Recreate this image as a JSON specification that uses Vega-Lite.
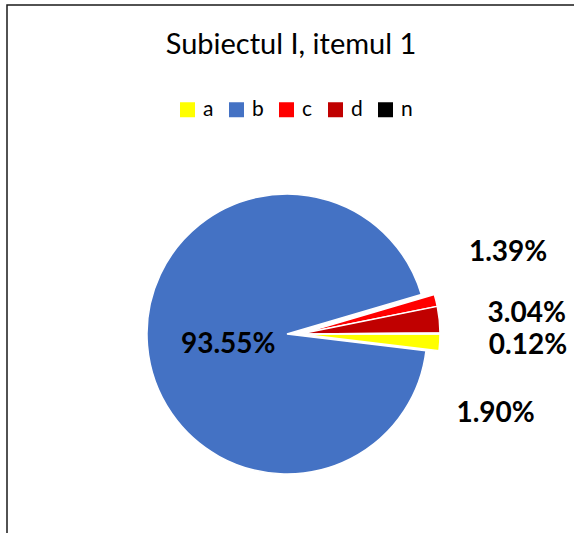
{
  "$schema": "https://vega.github.io/schema/vega-lite/v6.json",
  "width": 600,
  "height": 658,
  "autosize": {"type": "none"},
  "padding": {"left": 7, "top": 5, "right": -33, "bottom": -130},
  "background": "white",
  "title": {
    "text": "Subiectul I, itemul 1",
    "font": "Lato",
    "fontSize": 29,
    "fontWeight": "normal",
    "color": "#000000",
    "anchor": "middle",
    "frame": "group",
    "orient": "top",
    "baseline": "alphabetic",
    "offset": -79,
    "dx": -16
  },
  "data": {
    "values": [
      {"cat": "a", "pct": 1.90},
      {"cat": "b", "pct": 93.55},
      {"cat": "c", "pct": 1.39},
      {"cat": "d", "pct": 3.04},
      {"cat": "n", "pct": 0.12}
    ]
  },
  "transform": [
    {"stack": "pct", "groupby": [], "sort": [{"field": "cat", "order": "ascending"}], "as": ["t0", "t1"]},
    {"calculate": "(datum.t0 + datum.t1) / 2", "as": "mid"},
    {"calculate": "format(datum.pct, '.2f') + '%'", "as": "label"}
  ],
  "layer": [
    {
      "transform": [{"filter": "datum.cat === 'a'"}],
      "mark": {"type": "rect", "fill": null, "stroke": "#1a1a1a", "strokeWidth": 1.5, "strokeDash": [600, 1258, 658]},
      "encoding": {}
    },
    {
      "transform": [{"filter": "datum.cat === 'b'"}],
      "mark": {"type": "arc", "outerRadius": 140, "stroke": "white", "strokeWidth": 1.5, "xOffset": -20},
      "encoding": {
        "theta": {"field": "t0", "type": "quantitative", "stack": null, "scale": {"domain": [0, 100], "range": [1.5708, 7.8540]}},
        "theta2": {"field": "t1"},
        "color": {"field": "cat", "type": "nominal", "scale": {"domain": ["a", "b", "c", "d", "n"], "range": ["#FFFF00", "#4472C4", "#FF0000", "#C00000", "#000000"]}}
      }
    },
    {
      "transform": [{"filter": "datum.cat !== 'b'"}],
      "mark": {"type": "arc", "outerRadius": 140, "stroke": "white", "strokeWidth": 1.5, "xOffset": -7},
      "encoding": {
        "theta": {"field": "t0", "type": "quantitative", "stack": null},
        "theta2": {"field": "t1"},
        "color": {"field": "cat", "type": "nominal"}
      }
    },
    {
      "transform": [{"filter": "datum.cat === 'b'"}],
      "mark": {"type": "text", "font": "Lato", "fontWeight": "bold", "fontSize": 28, "color": "#000000", "align": "center", "baseline": "middle", "radius": 60, "dx": -19, "dy": 6},
      "encoding": {"theta": {"field": "mid", "type": "quantitative", "stack": null}, "text": {"field": "label"}}
    },
    {
      "transform": [{"filter": "datum.cat === 'c'"}],
      "mark": {"type": "text", "font": "Lato", "fontWeight": "bold", "fontSize": 28, "color": "#000000", "align": "center", "baseline": "middle", "radius": 235, "dx": -27, "dy": -25},
      "encoding": {"theta": {"field": "mid", "type": "quantitative", "stack": null}, "text": {"field": "label"}}
    },
    {
      "transform": [{"filter": "datum.cat === 'd'"}],
      "mark": {"type": "text", "font": "Lato", "fontWeight": "bold", "fontSize": 28, "color": "#000000", "align": "center", "baseline": "middle", "radius": 240, "dx": -19, "dy": 5},
      "encoding": {"theta": {"field": "mid", "type": "quantitative", "stack": null}, "text": {"field": "label"}}
    },
    {
      "transform": [{"filter": "datum.cat === 'n'"}],
      "mark": {"type": "text", "font": "Lato", "fontWeight": "bold", "fontSize": 28, "color": "#000000", "align": "center", "baseline": "middle", "radius": 240, "dx": -19, "dy": 13},
      "encoding": {"theta": {"field": "mid", "type": "quantitative", "stack": null}, "text": {"field": "label"}}
    },
    {
      "transform": [{"filter": "datum.cat === 'a'"}],
      "mark": {"type": "text", "font": "Lato", "fontWeight": "bold", "fontSize": 28, "color": "#000000", "align": "center", "baseline": "middle", "radius": 240, "dx": -51, "dy": 66},
      "encoding": {"theta": {"field": "mid", "type": "quantitative", "stack": null}, "text": {"field": "label"}}
    }
  ],
  "config": {
    "view": {"stroke": null},
    "legend": {
      "orient": "none",
      "legendX": 170,
      "legendY": 94,
      "direction": "horizontal",
      "title": null,
      "symbolType": "square",
      "symbolSize": 225,
      "symbolStrokeWidth": 0,
      "labelFont": "Lato",
      "labelFontSize": 21,
      "labelColor": "#000000",
      "labelOffset": 5,
      "columnPadding": 12,
      "padding": 0
    }
  }
}
